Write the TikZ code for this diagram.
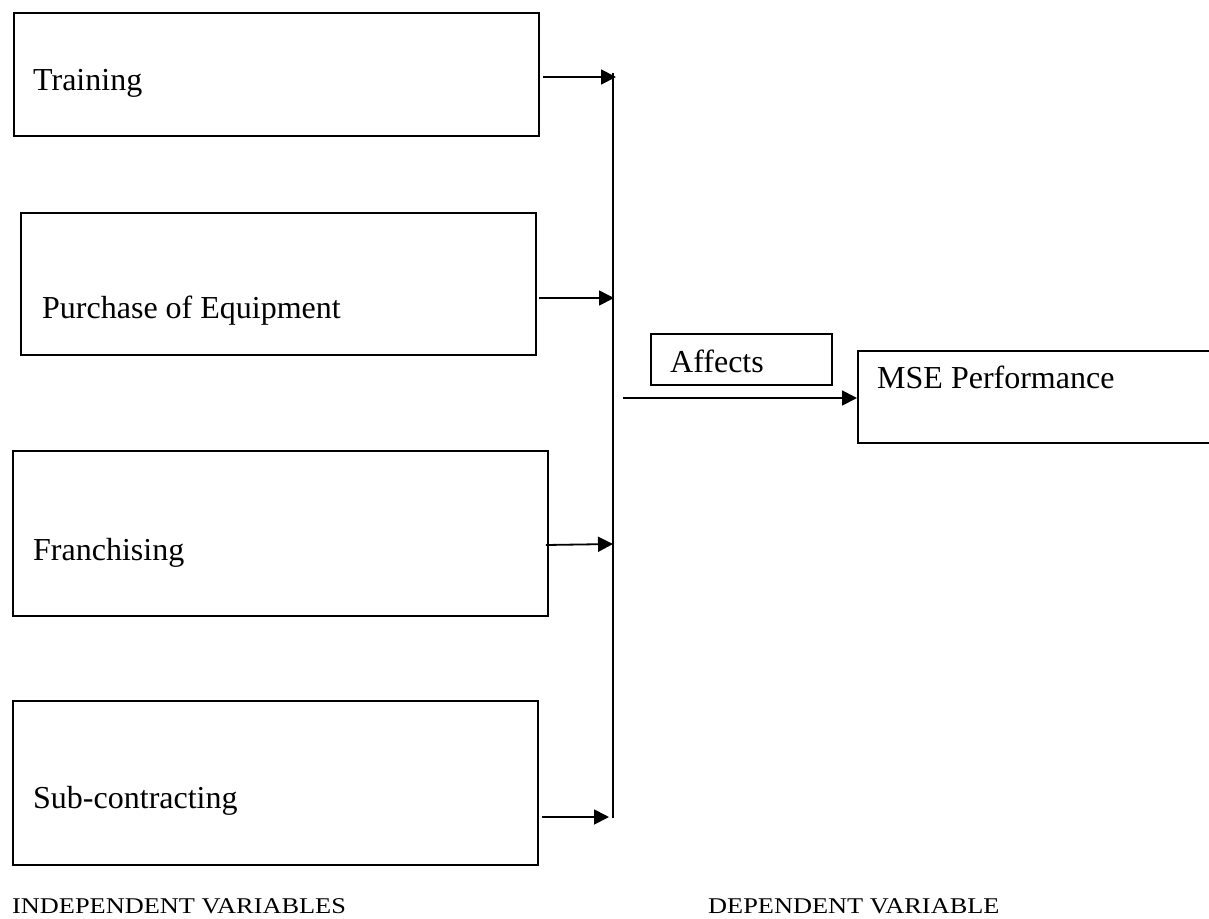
\documentclass[tikz,border=0pt]{standalone}
\usepackage{fontspec}
\setmainfont{Liberation Serif}
\newfontfamily\footfont[FakeStretch=1.17]{Liberation Serif}
\usetikzlibrary{arrows.meta}
\begin{document}
\begin{tikzpicture}[x=1pt,y=-1pt,
  box/.style={draw,line width=1.8pt,rectangle,inner sep=0pt,anchor=north west},
  lbl/.style={anchor=base west,inner sep=0pt,font=\fontsize{32}{38}\selectfont},
  foot/.style={anchor=base west,inner sep=0pt,font=\footfont\fontsize{22.5}{27}\selectfont},
  arr/.style={line width=1.8pt,-{Triangle[length=15pt,width=15pt]}},
  bus/.style={line width=1.8pt}]
\clip (0,0) rectangle (1209,918);
% independent variable boxes
\node[box,minimum width=525pt,minimum height=123pt] (tr) at (13,12) {};
\node[box,minimum width=515pt,minimum height=142pt] (pe) at (20,212) {};
\node[box,minimum width=535pt,minimum height=165pt] (fr) at (12,450) {};
\node[box,minimum width=525pt,minimum height=164pt] (sc) at (12,700) {};
\node[lbl] (trt) at (33,90) {Training};
\node[lbl] (pet) at (42,318) {Purchase of Equipment};
\node[lbl] (frt) at (33,560) {Franchising};
\node[lbl] (sct) at (33,808) {Sub-contracting};
% bus line
\coordinate (bt) at (613,73);
\coordinate (bb) at (613,818);
\draw[bus] (bt) -- (bb);
\coordinate (b1) at (616,77);
\coordinate (b2) at (614,298);
\coordinate (b3) at (613,544);
\coordinate (b4) at (609,817);
\draw[arr] ([xshift=3pt]tr.east |- b1) -- (b1);
\draw[arr] ([xshift=2pt]pe.east |- b2) -- (b2);
\draw[arr] ([xshift=-3pt,yshift=-1pt]fr.east |- b3) -- (b3);
\draw[arr] ([xshift=3pt]sc.east |- b4) -- (b4);
% affects and dependent
\node[box,minimum width=181pt,minimum height=51pt] (af) at (650,333) {};
\node[lbl] (aft) at (670,372) {Affects};
\node[box,minimum width=380pt,minimum height=92pt] (mse) at (857,350) {};
\node[lbl] (mset) at (877,388) {MSE Performance};
\coordinate (a0) at (623,398);
\draw[arr] (a0) -- (mse.west |- a0);
% footers
\node[foot] (iv) at (12,913) {INDEPENDENT VARIABLES};
\node[foot] (dv) at (708,913) {DEPENDENT VARIABLE};
\end{tikzpicture}
\end{document}
